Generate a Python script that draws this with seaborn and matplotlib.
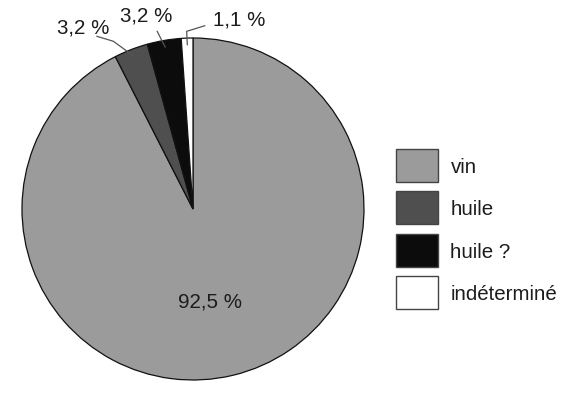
import numpy as np
import matplotlib
matplotlib.use("Agg")
import matplotlib.pyplot as plt
import seaborn as sns

# ------------------------------
# DATA
# ------------------------------

categories = ["vin", "huile", "huile ?", "indéterminé"]
shares = [92.5, 3.2, 3.2, 1.1]
share_labels = ["92,5 %", "3,2 %", "3,2 %", "1,1 %"]
colors = ["#9b9b9b", "#4f4f4f", "#0c0c0c", "#ffffff"]

# label placement for the small slices (text pos, elbow pos) in data units
outside_text = {1: (-0.64, 1.065), 2: (-0.275, 1.135), 3: (0.27, 1.11)}
outside_elbow = {1: [(-0.563, 1.01), (-0.466, 0.981)],
                 2: [(-0.21, 1.04)],
                 3: [(0.07, 1.072), (-0.037, 1.039)]}

# ------------------------------
# STYLE
# ------------------------------

sns.set_style("white")
plt.rcParams["font.family"] = ["Liberation Sans", "DejaVu Sans"]
fs = 14.8
text_color = "#1c1c1c"

fig = plt.figure(figsize=(5.63, 4.10), dpi=100)
ax = fig.add_axes([22 / 563, 29 / 410, 342 / 563, 342 / 410])

wedges, _ = ax.pie(
    shares,
    colors=colors,
    startangle=90,
    counterclock=False,
    radius=1.0,
    wedgeprops=dict(edgecolor="#111111", linewidth=0.9),
)

ax.set_xlim(-1.0, 1.0)
ax.set_ylim(-1.0, 1.0)
ax.set_aspect("equal")
ax.axis("off")

# ------------------------------
# LABELS
# ------------------------------

for i, w in enumerate(wedges):
    mid = np.deg2rad((w.theta1 + w.theta2) / 2)
    if i == 0:
        ax.text(0.56 * np.cos(mid) - 0.03, 0.56 * np.sin(mid) + 0.005,
                share_labels[i], ha="center", va="center",
                fontsize=fs, color=text_color)
        continue
    tx, ty = outside_text[i]
    pts = outside_elbow[i] + [(0.96 * np.cos(mid), 0.96 * np.sin(mid))]
    xs = [p[0] for p in pts]
    ys = [p[1] for p in pts]
    ax.plot(xs, ys, color="#555555", linewidth=0.9, clip_on=False)
    ax.text(tx, ty, share_labels[i], ha="center", va="center",
            fontsize=fs, color=text_color, clip_on=False)

# ------------------------------
# LEGEND
# ------------------------------

handles = [
    matplotlib.patches.Patch(facecolor=c, edgecolor="#444444", linewidth=1.0)
    for c in colors
]
fig.legend(
    handles,
    categories,
    loc="upper left",
    bbox_to_anchor=(396 / 563, 1 - 150 / 410),
    frameon=False,
    fontsize=fs,
    handlelength=2.05,
    handleheight=2.08,
    handletextpad=0.6,
    labelspacing=0.47,
    borderpad=0,
    borderaxespad=0,
    labelcolor=text_color,
)

fig.savefig("out.png", dpi=100, facecolor="white")
